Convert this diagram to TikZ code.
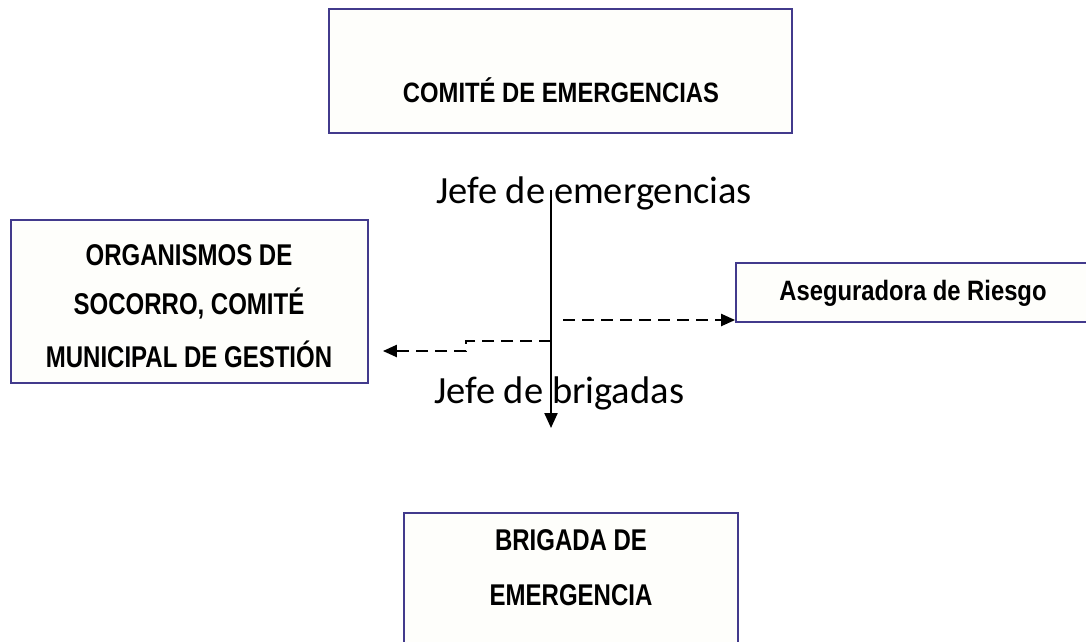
\documentclass[tikz,border=0pt]{standalone}
\usepackage{fontspec}
\setmainfont{Liberation Sans}
\newfontfamily\boxfont[FakeStretch=0.8]{Liberation Sans Bold}
\newfontfamily\boxfontw[FakeStretch=0.85]{Liberation Sans Bold}
\newfontfamily\jefefont{Carlito}
\usetikzlibrary{arrows.meta}
\definecolor{boxline}{RGB}{66,58,140}
\definecolor{boxfill}{RGB}{254,254,251}
\begin{document}
\begin{tikzpicture}[x=1pt,y=-1pt,
  box/.style={draw=boxline, line width=1.8pt, fill=boxfill, rectangle, inner sep=0pt},
  btext/.style={anchor=base, font=\boxfont\fontsize{30}{30}\selectfont, inner sep=0pt},
  wtext/.style={anchor=base, font=\boxfontw\fontsize{28}{28}\selectfont, inner sep=0pt},
  jefe/.style={anchor=base west, font=\jefefont\fontsize{38.5}{38.5}\selectfont, inner sep=0pt},
  solidarrow/.style={line width=2.2pt, -{Triangle[length=15pt,width=13pt]}},
  dasharrow/.style={line width=2.2pt, dash pattern=on 12pt off 7pt, -{Triangle[length=14pt,width=12pt]}}]
\clip (0,0) rectangle (1086,641);
\useasboundingbox (0,0) rectangle (1086,641);
\fill[white] (0,0) rectangle (1086,641);

% boxes
\node[box, minimum width=463pt, minimum height=124pt] (comite) at (560.5,71) {};
\node[box, minimum width=357pt, minimum height=163pt] (org) at (189.5,301.5) {};
\node[box, minimum width=356pt, minimum height=59pt] (aseg) at (914,292.5) {};
\node[box, minimum width=334pt, minimum height=177pt] (brig) at (571,601.5) {};

% box texts
\node[wtext] (comiteT) at (561,102) {COMITÉ DE EMERGENCIAS};
\node[btext] (orgA) at (189,265) {ORGANISMOS DE};
\node[btext] (orgB) at (189,314) {SOCORRO, COMITÉ};
\node[btext] (orgC) at (189,367) {MUNICIPAL DE GESTIÓN};
\node[wtext] (asegT) at (913,300) {Aseguradora de Riesgo};
\node[btext] (brigA) at (571,550) {BRIGADA DE};
\node[btext] (brigB) at (571,605) {EMERGENCIA};

% labels
\node[jefe] (jefeE) at (436,203) {Jefe de emergencias};
\node[jefe] (jefeB) at (434,403) {Jefe de brigadas};

% connectors
\coordinate (vtop) at (551,190);
\coordinate (vbot) at (551,428);
\coordinate (vsplit) at (551,341);
\coordinate (ljog) at (466,341);
\coordinate (rstart) at (563,320);
\draw[solidarrow] (vtop) -- (vbot);
\draw[dasharrow] (rstart) -- (rstart -| aseg.west);
\draw[dasharrow, shorten >=14pt] (vsplit) -- (ljog) -- ++(0,10) -- (org.east |- 0,351);
\end{tikzpicture}
\end{document}
